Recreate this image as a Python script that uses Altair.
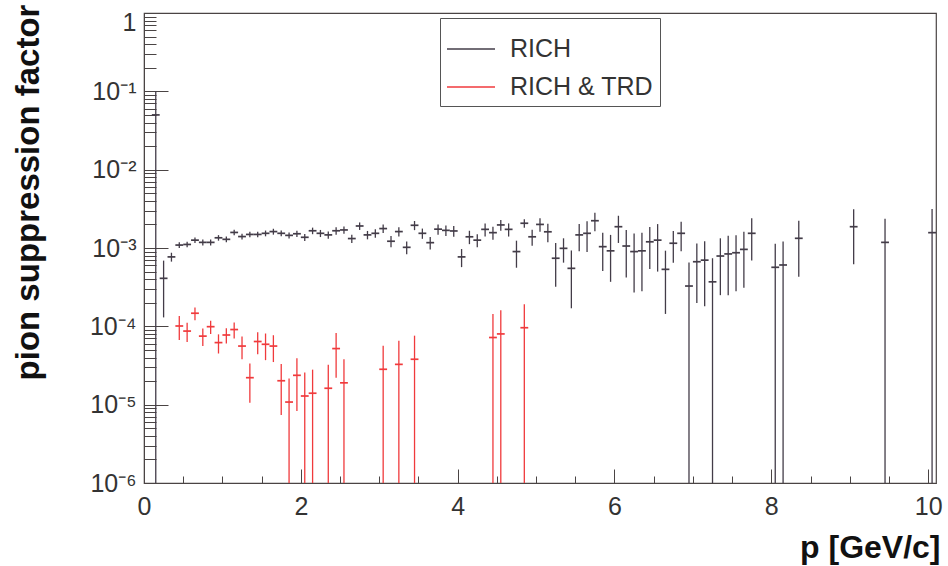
import altair as alt
import numpy as np
import pandas as pd

# ---------------- data ----------------
rich_p = [0.15, 0.25, 0.35, 0.45, 0.55, 0.65, 0.75, 0.85, 0.95, 1.05,
          1.15, 1.25, 1.35, 1.45, 1.55, 1.65, 1.75, 1.85, 1.95, 2.05,
          2.15, 2.25, 2.35, 2.45, 2.55, 2.65, 2.75, 2.85, 2.95, 3.05,
          3.15, 3.25, 3.35, 3.45, 3.55, 3.65, 3.75, 3.85, 3.95, 4.05,
          4.15, 4.25, 4.35, 4.45, 4.55, 4.65, 4.75, 4.85, 4.95, 5.05,
          5.15, 5.25, 5.35, 5.45, 5.55, 5.65, 5.75, 5.85, 5.95, 6.05,
          6.15, 6.25, 6.35, 6.45, 6.55, 6.65, 6.75, 6.85, 6.95, 7.05,
          7.15, 7.25, 7.35, 7.45, 7.55, 7.65, 7.75, 8.05, 8.15, 8.35,
          9.05, 9.45, 10.05]
rich_val = [5.0e-2, 4.1e-4, 7.7e-4, 1.09e-3, 1.11e-3, 1.26e-3, 1.18e-3, 1.18e-3, 1.35e-3, 1.29e-3,
            1.58e-3, 1.40e-3, 1.49e-3, 1.49e-3, 1.54e-3, 1.62e-3, 1.54e-3, 1.45e-3, 1.52e-3, 1.37e-3,
            1.66e-3, 1.54e-3, 1.47e-3, 1.66e-3, 1.70e-3, 1.32e-3, 1.91e-3, 1.47e-3, 1.54e-3, 1.77e-3,
            1.22e-3, 1.62e-3, 1.02e-3, 1.95e-3, 1.54e-3, 1.17e-3, 1.74e-3, 1.68e-3, 1.65e-3, 7.7e-4,
            1.39e-3, 1.26e-3, 1.73e-3, 1.57e-3, 1.97e-3, 1.73e-3, 9.0e-4, 2.07e-3, 1.39e-3, 2.00e-3,
            1.61e-3, 7.4e-4, 9.9e-4, 5.5e-4, 1.47e-3, 1.54e-3, 2.23e-3, 1.04e-3, 9.2e-4, 1.87e-3,
            1.06e-3, 9.0e-4, 9.2e-4, 1.20e-3, 1.26e-3, 5.34e-4, 1.15e-3, 1.54e-3, 3.27e-4, 6.68e-4,
            7.0e-4, 3.7e-4, 7.9e-4, 8.4e-4, 8.7e-4, 9.6e-4, 1.54e-3, 5.67e-4, 6.07e-4, 1.33e-3,
            1.87e-3, 1.18e-3, 1.57e-3]
rich_err = [5.0e-2, 2.8e-4, 1.0e-4, 0.9e-4, 0.9e-4, 1.0e-4, 1.0e-4, 1.0e-4, 1.1e-4, 1.1e-4,
            1.3e-4, 1.2e-4, 1.2e-4, 1.2e-4, 1.3e-4, 1.4e-4, 1.3e-4, 1.3e-4, 1.4e-4, 1.4e-4,
            1.6e-4, 1.6e-4, 1.6e-4, 1.8e-4, 1.8e-4, 1.6e-4, 2.1e-4, 1.8e-4, 1.9e-4, 2.2e-4,
            2.0e-4, 2.2e-4, 1.9e-4, 2.6e-4, 2.3e-4, 2.1e-4, 2.6e-4, 2.6e-4, 2.6e-4, 2.0e-4,
            2.7e-4, 2.4e-4, 3.3e-4, 3.0e-4, 3.1e-4, 3.3e-4, 3.4e-4, 2.6e-4, 3.2e-4, 3.9e-4,
            4.3e-4, 4.2e-4, 3.4e-4, 3.8e-4, 5.6e-4, 6.5e-4, 5.9e-4, 5.3e-4, 5.5e-4, 7.1e-4,
            6.4e-4, 6.3e-4, 6.4e-4, 6.6e-4, 7.6e-4, 3.9e-4, 5.0e-4, 6.3e-4, 3.27e-4, 4.7e-4,
            5.2e-4, 3.7e-4, 5.4e-4, 5.9e-4, 5.9e-4, 6.5e-4, 8.5e-4, 5.67e-4, 6.07e-4, 9.0e-4,
            1.25e-3, 1.18e-3, 1.57e-3]

trd_p = [0.45, 0.55, 0.65, 0.75, 0.85, 0.95, 1.05, 1.15, 1.25, 1.35,
         1.45, 1.55, 1.65, 1.75, 1.85, 1.95, 2.05, 2.15, 2.35, 2.45,
         2.55, 3.05, 3.25, 3.45, 4.45, 4.55, 4.85]
trd_val = [1.01e-4, 8.7e-5, 1.47e-4, 7.5e-5, 9.9e-5, 6.2e-5, 7.75e-5, 9.1e-5, 5.6e-5, 2.21e-5,
           6.4e-5, 5.9e-5, 5.6e-5, 2.02e-5, 1.08e-5, 2.37e-5, 1.29e-5, 1.4e-5, 1.62e-5, 5.2e-5,
           1.9e-5, 2.83e-5, 3.27e-5, 3.8e-5, 7.2e-5, 8.0e-5, 9.6e-5]
trd_err = [3.4e-5, 2.4e-5, 2.7e-5, 1.9e-5, 1.9e-5, 1.7e-5, 1.7e-5, 2.1e-5, 1.8e-5, 1.15e-5,
           2.0e-5, 2.2e-5, 2.1e-5, 1.28e-5, 1.08e-5, 1.54e-5, 1.29e-5, 1.4e-5, 1.62e-5, 3.0e-5,
           1.9e-5, 2.83e-5, 3.27e-5, 3.8e-5, 7.2e-5, 8.0e-5, 9.6e-5]

series_names = ["RICH", "RICH & TRD"]
series_colors = ["#433c48", "#f03a3c"]
bin_half_width = 0.05
y_min, y_max = 1e-6, 1.0
x_min, x_max = 0.0, 10.1


def make_frame(p, v, e, name):
    df = pd.DataFrame({"p": p, "val": v, "err": e})
    df["series"] = name
    df["lo"] = np.maximum(df["val"] - df["err"], y_min)
    df["hi"] = np.minimum(df["val"] + df["err"], y_max)
    df["plo"] = df["p"] - bin_half_width
    df["phi"] = df["p"] + bin_half_width
    return df


data = pd.concat([make_frame(rich_p, rich_val, rich_err, series_names[0]),
                  make_frame(trd_p, trd_val, trd_err, series_names[1])],
                 ignore_index=True)

# ---------------- axes ----------------
FONT = "Liberation Sans"
FRAME = "#4a4444"

x_ticks = [i * 0.5 for i in range(0, 21)]
y_ticks = [k * 10.0 ** e for e in range(-6, 0) for k in range(1, 10)] + [1.0]

LOG10 = "(log(datum.value)/LN10)"
DECADE = f"abs({LOG10} - round({LOG10})) < 0.001"
EVEN = "abs(datum.value/2 - round(datum.value/2)) < 0.001"

y_label_expr = (
    f"!({DECADE}) ? '' : (round({LOG10}) == 0 ? '1' : "
    f"'10' + ['', '⁻¹', '⁻²', '⁻³', '⁻⁴', '⁻⁵', '⁻⁶'][-round({LOG10})])"
)
x_label_expr = f"{EVEN} ? format(datum.value, 'd') : ''"

# ticks point inwards (negative size); label padding compensates the major tick length
x_axis = alt.Axis(
    values=x_ticks,
    labelExpr=x_label_expr,
    tickSize={"condition": {"test": EVEN, "value": -14}, "value": -7},
    tickColor=FRAME, tickWidth=1, domainColor=FRAME, grid=False,
    labelFont=FONT, labelFontSize=25, labelColor="#333333",
    labelPadding=25, labelFlush=False, labelOverlap=False, labelBound=False,
    title="p [GeV/c]", titleFont=FONT, titleFontSize=32, titleFontWeight="bold",
    titleColor="#111111", titleAnchor="end", titleAlign="right",
    titleBaseline="alphabetic", titleX=796, titleY=74,
)
y_axis = alt.Axis(
    values=y_ticks,
    labelExpr=y_label_expr,
    tickSize={"condition": {"test": DECADE, "value": -24}, "value": -12},
    tickColor=FRAME, tickWidth=1, domainColor=FRAME, grid=False,
    labelFont=FONT, labelFontSize=25, labelColor="#333333",
    labelPadding=32, labelFlush=False, labelOverlap=False, labelBound=False,
    labelBaseline="middle",
    labelOffset={"condition": {"test": "datum.value == 1", "value": 9}, "value": 0},
    title="pion suppression factor", titleFont=FONT, titleFontSize=33,
    titleFontWeight="bold", titleColor="#111111", titleAngle=270,
    titleAlign="center", titleBaseline="alphabetic", titleX=-106, titleY=179,
)

x_scale = alt.Scale(domain=[x_min, x_max], nice=False, zero=False)
y_scale = alt.Scale(type="log", domain=[y_min, y_max], nice=False, clamp=True)

color = alt.Color(
    "series:N",
    scale=alt.Scale(domain=series_names, range=series_colors),
    legend=alt.Legend(
        orient="none", legendX=296, legendY=5, title=None,
        symbolType="stroke", symbolSize=2304, symbolStrokeWidth=1.4,
        labelFont=FONT, labelFontSize=25, labelColor="#333333",
        labelOffset=14, rowPadding=0, padding=6,
        strokeColor="#555555", fillColor="white", cornerRadius=0,
    ),
)

base = alt.Chart(data)

vbars = base.mark_rule(strokeWidth=1.3).encode(
    x=alt.X("p:Q", scale=x_scale, axis=x_axis),
    y=alt.Y("lo:Q", scale=y_scale, axis=y_axis),
    y2="hi:Q",
    color=color,
)
hbars = base.mark_rule(strokeWidth=1.7).encode(
    x=alt.X("plo:Q", scale=x_scale, axis=x_axis),
    x2="phi:Q",
    y=alt.Y("val:Q", scale=y_scale, axis=y_axis),
    color=color,
)

chart = (
    alt.layer(vbars, hbars)
    .properties(
        width=792, height=470,
        autosize=alt.AutoSizeParams(type="none"),
        padding={"left": 144, "top": 13, "right": 12, "bottom": 83},
        background="white",
    )
    .configure_view(stroke=FRAME, strokeWidth=1.2)
)

chart.save("out.html", embed_options={"renderer": "svg", "actions": False})
